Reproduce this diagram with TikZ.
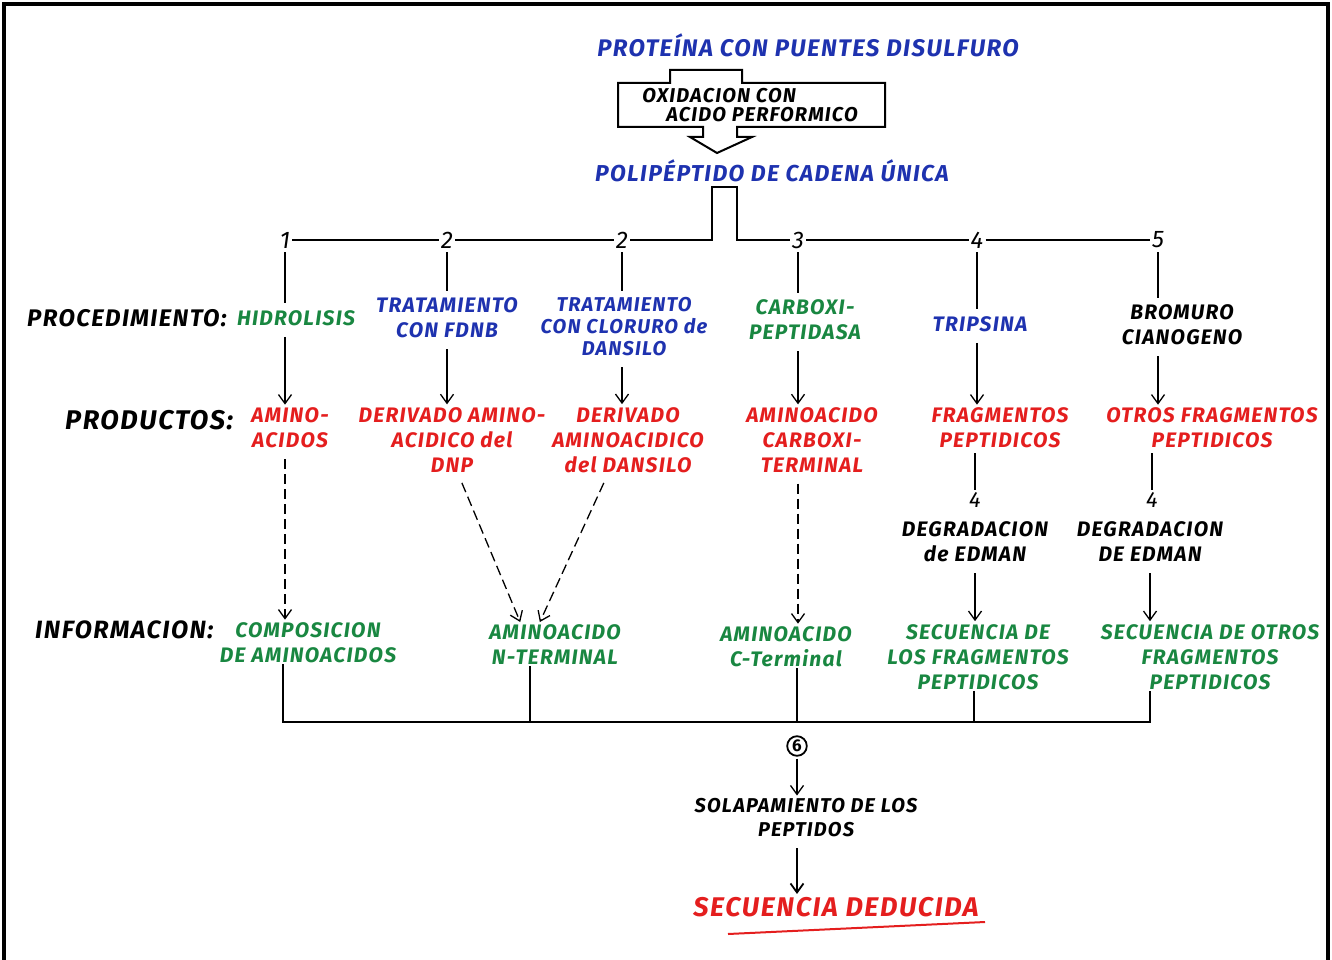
\documentclass[tikz,border=0pt]{standalone}
\usepackage{fontspec}
\setmainfont{Fira Sans}
\newfontfamily\hand[LetterSpace=6]{Fira Sans}
\usetikzlibrary{arrows.meta}
\definecolor{pblue}{RGB}{30,50,175}
\definecolor{pred}{RGB}{228,30,30}
\definecolor{pgreen}{RGB}{25,135,65}
\newcommand{\hf}[2]{\fontsize{#1}{#2}\selectfont\hand\bfseries\itshape}
\begin{document}
\begin{tikzpicture}[x=1pt,y=-1pt,
  lbl/.style={font=\hf{21}{25}, align=center, inner sep=1pt},
  sml/.style={font=\hf{20}{19}, align=left, inner sep=1pt},
  big/.style={font=\hf{27}{30}, inner sep=1pt},
  num/.style={font=\fontsize{24}{24}\selectfont\itshape, inner sep=2pt},
  arr/.style={-{Straight Barb[length=9pt,width=13pt]}, line width=1.3pt, shorten <=10pt, shorten >=2pt},
  dsh/.style={arr, dash pattern=on 10pt off 5pt},
  ln/.style={line width=1.6pt},
  blue/.style={text=pblue}, red/.style={text=pred}, green/.style={text=pgreen}]
\useasboundingbox (0,0) rectangle (1332,960);
\draw[line width=4pt] (4,970) -- (4,4) -- (1328,4) -- (1328,970);

% top
\node[lbl, blue, font=\hf{24}{26}] (prot) at (808,45) {PROTEÍNA CON PUENTES DISULFURO};
\draw[line width=2pt] (618,83) -- (670,83) -- (670,70) -- (742,70) -- (742,83) -- (885,83) -- (885,127)
  -- (737,127) -- (737,137) -- (752,137) -- (717,153) -- (690,137) -- (703,137) -- (703,127) -- (618,127) -- cycle;
\node[sml] (ox) at (750,105) {OXIDACION CON\\\hspace*{24pt}ACIDO PERFORMICO};
\node[lbl, blue, font=\hf{23}{26}] (poly) at (772,171) {POLIPÉPTIDO DE CADENA ÚNICA};

% numbers row
\node[num] (n1) at (285,240) {1};
\node[num] (n2) at (447,240) {2};
\node[num] (n2b) at (622,240) {2};
\node[num] (n3) at (798,240) {3};
\node[num] (n4) at (977,240) {4};
\node[num] (n5) at (1158,240) {5};
\coordinate (pl) at (712,187);
\coordinate (pr) at (737,187);
\draw[ln] (n1) -- (n2);
\draw[ln] (n2) -- (n2b);
\draw[ln] (n2b.east) -- (pl |- n2b) -- (pl) -- (pr) -- (pr |- n3) -- (n3.west);
\draw[ln] (n3) -- (n4);
\draw[ln] (n4) -- (n5);

% procedures
\node[big, anchor=west, font=\hf{24}{28}] (proc) at (26,318) {PROCEDIMIENTO:};
\node[lbl, green] (hid) at (296,318) {HIDROLISIS};
\node[lbl, blue] (fdnb) at (447,318) {TRATAMIENTO\\CON FDNB};
\node[lbl, blue, font=\hf{20}{22}] (clor) at (624,327) {TRATAMIENTO\\CON CLORURO de\\DANSILO};
\node[lbl, green] (carb) at (805,320) {CARBOXI-\\PEPTIDASA};
\node[lbl, blue] (trip) at (980,324) {TRIPSINA};
\node[lbl] (brom) at (1182,325) {BROMURO\\CIANOGENO};
\foreach \a/\b in {n1/hid,n2/fdnb,n2b/clor,n3/carb,n4/trip,n5/brom}
  \draw[ln, shorten <=2pt, shorten >=6pt] (\a) -- (\a |- \b.north);

% products
\node[big, anchor=west] (prod) at (64,420) {PRODUCTOS:};
\node[lbl, red] (amino) at (290,428) {AMINO-\\ACIDOS};
\node[lbl, red] (dnp) at (452,440) {DERIVADO AMINO-\\ACIDICO del\\DNP};
\node[lbl, red] (dans) at (628,440) {DERIVADO\\AMINOACIDICO\\del DANSILO};
\node[lbl, red] (acarb) at (812,440) {AMINOACIDO\\CARBOXI-\\TERMINAL};
\node[lbl, red] (frag) at (1000,428) {FRAGMENTOS\\PEPTIDICOS};
\node[lbl, red] (ofrag) at (1212,428) {OTROS FRAGMENTOS\\PEPTIDICOS};
\draw[arr] (hid.south -| n1) -- (amino.north -| n1);
\draw[arr] (fdnb.south -| n2) -- (dnp.north -| n2);
\draw[arr] (clor.south -| n2b) -- (dans.north -| n2b);
\draw[arr] (carb.south -| n3) -- (acarb.north -| n3);
\draw[arr] (trip.south -| n4) -- (frag.north -| n4);
\draw[arr] (brom.south -| n5) -- (ofrag.north -| n5);

% Edman steps
\node[num, font=\fontsize{22}{22}\selectfont\itshape] (f4) at (975,500) {4};
\node[num, font=\fontsize{22}{22}\selectfont\itshape] (g4) at (1152,500) {4};
\node[lbl] (ed1) at (975,542) {DEGRADACION\\de EDMAN};
\node[lbl] (ed2) at (1150,542) {DEGRADACION\\DE EDMAN};
\draw[ln, shorten <=4pt] (frag.south -| f4) -- (f4.north);
\draw[ln, shorten <=4pt] (ofrag.south -| g4) -- (g4.north);

% information
\node[big, anchor=west, font=\hf{25}{28}] (info) at (34,630) {INFORMACION:};
\node[lbl, green] (comp) at (308,643) {COMPOSICION\\DE AMINOACIDOS};
\node[lbl, green] (nter) at (555,645) {AMINOACIDO\\N-TERMINAL};
\node[lbl, green] (cter) at (786,647) {AMINOACIDO\\C-Terminal};
\node[lbl, green] (seq) at (978,657) {SECUENCIA DE\\LOS FRAGMENTOS\\PEPTIDICOS};
\node[lbl, green] (seqo) at (1210,657) {SECUENCIA DE OTROS\\FRAGMENTOS\\PEPTIDICOS};
\draw[dsh] (amino.south -| n1) -- (comp.north -| n1);
\draw[dsh] ([xshift=6pt]dnp.south) -- ([xshift=-34pt]nter.north);
\draw[dsh] ([xshift=-20pt]dans.south) -- ([xshift=-16pt]nter.north);
\draw[dsh] (acarb.south -| n3) -- (cter.north -| n3);
\draw[arr] (ed1.south) -- (seq.north -| ed1);
\draw[arr] (ed2.south) -- (seqo.north -| ed2);

% bottom bracket
\coordinate (b1) at (283,722);
\coordinate (b2) at (530,722);
\coordinate (b3) at (797,722);
\coordinate (b4) at (974,722);
\coordinate (b5) at (1150,722);
\draw[ln] (b1 |- comp.south) -- (b1) -- (b5) -- (b5 |- seqo.south);
\draw[ln] (b2 |- nter.south) -- (b2);
\draw[ln] (b3 |- cter.south) -- (b3);
\draw[ln] (b4 |- seq.south) -- (b4);

\node[draw, circle, line width=1.8pt, inner sep=1.5pt, font=\fontsize{17}{17}\selectfont\bfseries] (six) at (797,746) {6};
\node[lbl, font=\hf{20}{24}] (sola) at (806,818) {SOLAPAMIENTO DE LOS\\PEPTIDOS};
\node[big, red, font=\hf{27}{30}] (sec) at (836,907) {SECUENCIA DEDUCIDA};
\draw[arr, shorten <=2pt] (six) -- (sola.north -| six);
\draw[arr, line width=1.8pt] (sola.south -| six) -- (sec.north -| six);
\draw[pred, line width=2pt] (728,934) -- (985,922);
\end{tikzpicture}
\end{document}
